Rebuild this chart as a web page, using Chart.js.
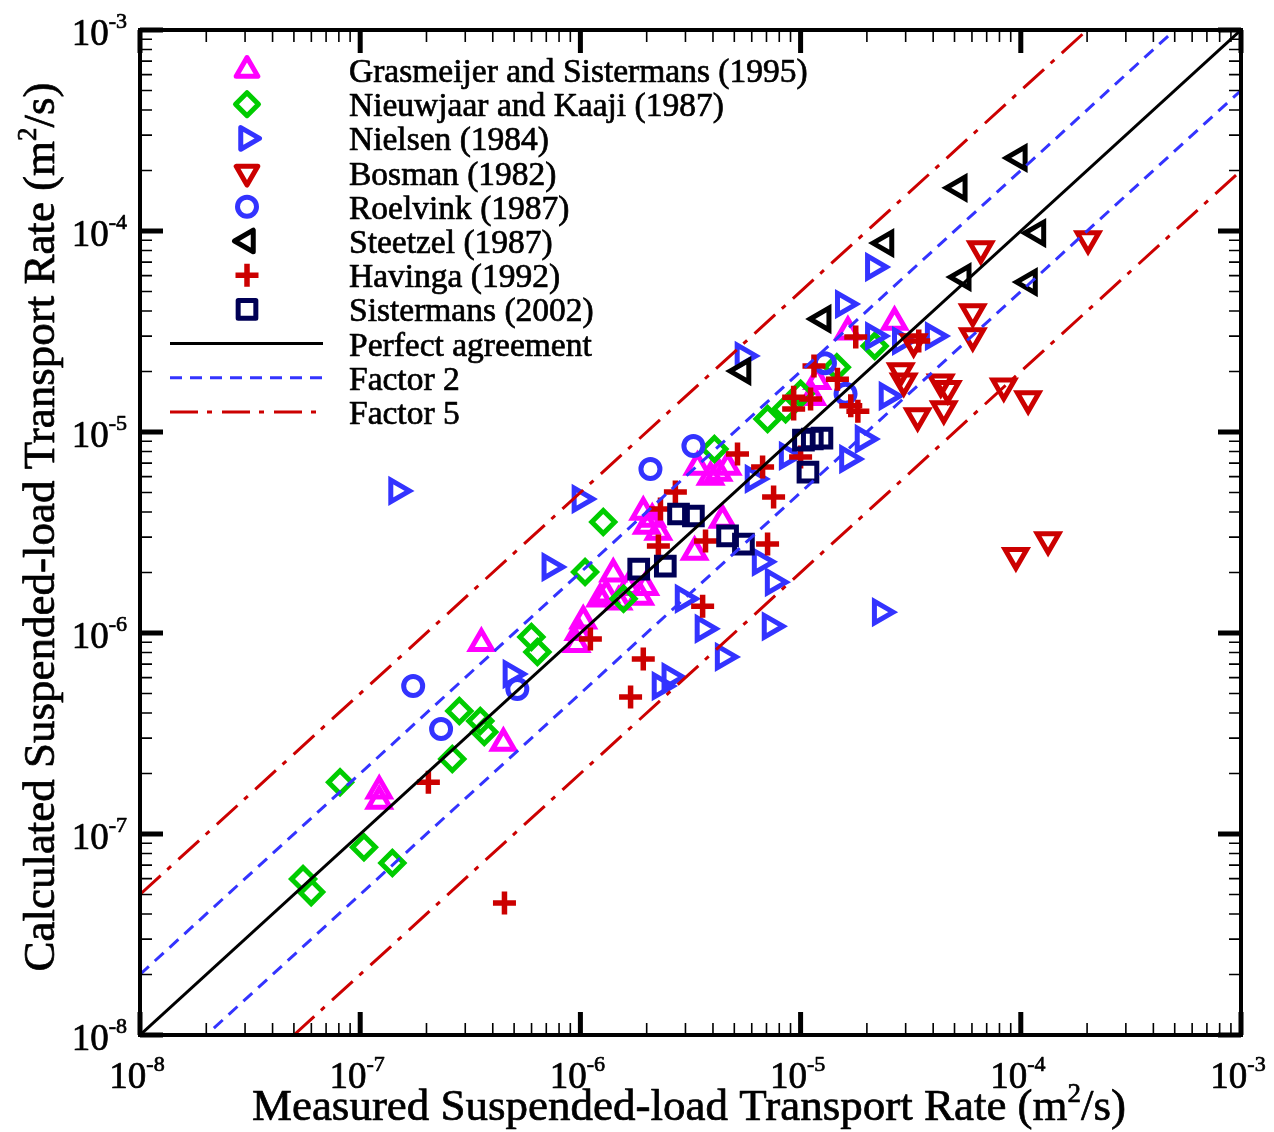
<!DOCTYPE html>
<html>
<head>
<meta charset="utf-8">
<script src="https://cdn.jsdelivr.net/npm/chart.js@4.4.1/dist/chart.umd.min.js"></script>
<style>
  html, body { margin: 0; padding: 0; background: #ffffff; }
  #wrap { width: 1274px; height: 1132px; position: relative; }
</style>
</head>
<body>
<div id="wrap"><canvas id="c" width="1274" height="1132"></canvas></div>
<script>
// ---- data (m^2/s) ----
const grasmeijerX = [1.22e-7, 1.22e-7, 3.55e-7, 4.47e-7, 9.8e-7, 9.6e-7, 1.03e-6, 1.23e-6, 1.31e-6, 1.41e-6, 1.65e-6, 1.87e-6, 1.97e-6, 1.49e-6, 1.93e-6, 2.0e-6, 2.26e-6, 2.12e-6, 3.3e-6, 3.4e-6, 3.9e-6, 4.24e-6, 4.66e-6, 4.42e-6, 1.13e-5, 1.19e-5, 1.64e-5, 2.67e-5];
const grasmeijerY = [1.64e-7, 1.46e-7, 8.9e-7, 2.84e-7, 1.01e-6, 8.8e-7, 1.15e-6, 1.48e-6, 1.55e-6, 1.97e-6, 1.69e-6, 1.51e-6, 1.69e-6, 1.43e-6, 4.0e-6, 3.41e-6, 3.18e-6, 3.69e-6, 2.53e-6, 6.7e-6, 5.97e-6, 6.25e-6, 6.7e-6, 3.65e-6, 1.49e-5, 1.79e-5, 3.15e-5, 3.53e-5];

const nieuwjaarX = [5.5e-8, 5.99e-8, 8.1e-8, 1.04e-7, 1.40e-7, 2.62e-7, 2.82e-7, 3.51e-7, 3.66e-7, 5.99e-7, 6.38e-7, 1.05e-6, 1.27e-6, 1.57e-6, 4.06e-6, 7.08e-6, 8.55e-6, 1.0e-5, 1.46e-5, 2.17e-5];
const nieuwjaarY = [5.97e-8, 5.14e-8, 1.81e-7, 8.6e-8, 7.17e-8, 2.36e-7, 4.09e-7, 3.65e-7, 3.22e-7, 9.55e-7, 8.04e-7, 2.01e-6, 3.57e-6, 1.48e-6, 8.23e-6, 1.16e-5, 1.30e-5, 1.55e-5, 2.1e-5, 2.68e-5];

const nielsenX = [1.47e-7, 4.86e-7, 7.3e-7, 1.0e-6, 2.94e-6, 3.62e-6, 2.31e-6, 2.56e-6, 4.47e-6, 6.58e-6, 7.54e-6, 7.3e-6, 2.31e-5, 6.11e-6, 8.73e-6, 1.64e-5, 1.93e-5, 2.48e-5, 2.15e-5, 2.85e-5, 4.02e-5, 1.57e-5, 2.15e-5, 5.5e-6];
const nielsenY = [5.09e-6, 6.25e-7, 2.13e-6, 4.64e-6, 1.48e-6, 1.05e-6, 5.45e-7, 6.04e-7, 7.6e-7, 2.26e-6, 1.79e-6, 1.08e-6, 1.27e-6, 5.84e-6, 7.6e-6, 7.34e-6, 9.23e-6, 1.51e-5, 3.0e-5, 2.84e-5, 3.0e-5, 4.33e-5, 6.62e-5, 2.39e-5];

const bosmanX = [6.58e-5, 2.02e-4, 6.05e-5, 6.05e-5, 3.26e-5, 2.85e-5, 2.94e-5, 4.33e-5, 4.66e-5, 3.4e-5, 4.47e-5, 8.37e-5, 1.08e-4, 9.5e-5, 1.33e-4];
const bosmanY = [8.13e-5, 9.12e-5, 3.95e-5, 3.0e-5, 2.8e-5, 2.01e-5, 1.79e-5, 1.77e-5, 1.64e-5, 1.2e-5, 1.30e-5, 1.69e-5, 1.46e-5, 2.42e-6, 2.9e-6];

const roelvinkX = [1.74e-7, 2.33e-7, 5.17e-7, 2.08e-6, 3.26e-6, 1.29e-5, 1.6e-5];
const roelvinkY = [5.45e-7, 3.33e-7, 5.26e-7, 6.55e-6, 8.52e-6, 2.2e-5, 1.55e-5];

const steetzelX = [9.8e-5, 5.23e-5, 2.43e-5, 1.19e-4, 5.45e-5, 1.09e-4, 1.26e-5, 5.45e-6];
const steetzelY = [2.31e-4, 1.64e-4, 8.71e-5, 9.77e-5, 5.9e-5, 5.57e-5, 3.65e-5, 2.01e-5];

const havingaX = [2.04e-7, 4.52e-7, 1.11e-6, 1.69e-6, 1.93e-6, 2.26e-6, 2.31e-6, 2.7e-6, 3.59e-6, 3.7e-6, 5.17e-6, 6.72e-6, 7.08e-6, 7.54e-6, 9.3e-6, 9.3e-6, 1.11e-5, 1.15e-5, 1.47e-5, 1.69e-5, 1.82e-5, 1.78e-5, 3.44e-5, 1.0e-5];
const havingaY = [1.81e-7, 4.54e-8, 9.33e-7, 4.8e-7, 7.43e-7, 2.71e-6, 4.14e-6, 5.03e-6, 1.36e-6, 2.87e-6, 7.78e-6, 6.7e-6, 2.77e-6, 4.75e-6, 1.49e-5, 1.30e-5, 1.46e-5, 2.13e-5, 1.83e-5, 1.35e-5, 1.27e-5, 2.97e-5, 2.84e-5, 7.51e-6];

const sistermansX = [1.84e-6, 2.43e-6, 2.79e-6, 3.26e-6, 4.66e-6, 5.5e-6, 1.03e-5, 1.13e-5, 1.25e-5, 1.08e-5];
const sistermansY = [2.08e-6, 2.15e-6, 3.91e-6, 3.82e-6, 3.04e-6, 2.77e-6, 9.12e-6, 9.23e-6, 9.33e-6, 6.32e-6];

// axis range and decade tick labels
const axisMin = 1e-8;
const axisMax = 1e-3;
const tickExponents = ['-8', '-7', '-6', '-5', '-4', '-3'];

// reference lines: y = factor * x
const perfectFactor = [1];
const factor2 = [2, 0.5];
const factor5 = [5, 0.2];

const FONT = '"Liberation Serif", "Times New Roman", serif';

function zip(xs, ys) { return xs.map((x, i) => ({ x: x, y: ys[i] })); }

const markerSeries = [
  { label: 'Grasmeijer and Sistermans (1995)', xs: grasmeijerX, ys: grasmeijerY, color: '#ff00ff', style: 'triangle', rotation: 0, radius: 12.5, bw: 5 },
  { label: 'Nieuwjaar and Kaaji (1987)', xs: nieuwjaarX, ys: nieuwjaarY, color: '#00cc00', style: 'rectRot', rotation: 0, radius: 11.5, bw: 5 },
  { label: 'Nielsen (1984)', xs: nielsenX, ys: nielsenY, color: '#3333ff', style: 'triangle', rotation: 90, radius: 12.5, bw: 5 },
  { label: 'Bosman (1982)', xs: bosmanX, ys: bosmanY, color: '#cc0000', style: 'triangle', rotation: 180, radius: 12.5, bw: 5 },
  { label: 'Roelvink (1987)', xs: roelvinkX, ys: roelvinkY, color: '#3333ff', style: 'circle', rotation: 0, radius: 9.5, bw: 5 },
  { label: 'Steetzel (1987)', xs: steetzelX, ys: steetzelY, color: '#000000', style: 'triangle', rotation: 270, radius: 12.5, bw: 5 },
  { label: 'Havinga (1992)', xs: havingaX, ys: havingaY, color: '#cc0000', style: 'cross', rotation: 0, radius: 11.5, bw: 5.5 },
  { label: 'Sistermans (2002)', xs: sistermansX, ys: sistermansY, color: '#000055', style: 'rect', rotation: 0, radius: 12.5, bw: 5 }
];

const lineSeries = [
  { label: 'Perfect agreement', factors: perfectFactor, color: '#000000', dash: [] },
  { label: 'Factor 2', factors: factor2, color: '#3333ff', dash: [12, 8] },
  { label: 'Factor 5', factors: factor5, color: '#cc0000', dash: [28, 9, 5, 10] }
];

const datasets = [];
lineSeries.forEach(ls => {
  ls.factors.forEach(f => {
    datasets.push({
      label: ls.label,
      data: [{ x: axisMin, y: axisMin * f }, { x: axisMax, y: axisMax * f }],
      showLine: true,
      borderColor: ls.color,
      borderWidth: 3,
      borderDash: ls.dash,
      pointRadius: 0,
      pointHoverRadius: 0,
      fill: false,
      order: 0
    });
  });
});
markerSeries.forEach((s, i) => {
  datasets.push({
    label: s.label,
    data: zip(s.xs, s.ys),
    showLine: false,
    pointStyle: s.style,
    rotation: s.rotation,
    radius: s.radius,
    pointRadius: s.radius,
    pointHoverRadius: s.radius,
    borderColor: s.color,
    backgroundColor: 'rgba(0,0,0,0)',
    borderWidth: s.bw,
    pointBorderWidth: s.bw,
    order: 20 - i
  });
});

// text with a raised, smaller part: parts = [[text, isSup], ...]
function measureParts(ctx, parts, size, supSize) {
  let w = 0;
  parts.forEach(p => {
    ctx.font = (p[1] ? supSize : size) + 'px ' + FONT;
    w += ctx.measureText(p[0]).width;
  });
  return w;
}
function heavyText(ctx, t, x, y) {
  ctx.fillText(t, x, y);
  ctx.strokeText(t, x, y);
}
function drawParts(ctx, parts, x, y, size, supSize, raise) {
  let cx = x;
  parts.forEach(p => {
    ctx.font = (p[1] ? supSize : size) + 'px ' + FONT;
    heavyText(ctx, p[0], cx, p[1] ? y - raise : y);
    cx += ctx.measureText(p[0]).width;
  });
}

const framePlugin = {
  id: 'frameAndAnnotations',
  afterDraw(chart) {
    const ctx = chart.ctx;
    const a = chart.chartArea;
    const xs = chart.scales.x, ys = chart.scales.y;
    ctx.save();
    ctx.strokeStyle = '#000';
    ctx.fillStyle = '#000';
    ctx.lineCap = 'butt';

    // ticks on all four sides
    const majLen = 23, minLen = 12;
    for (let e = -8; e <= -3; e++) {
      for (let m = 1; m <= 9; m++) {
        const v = m * Math.pow(10, e);
        if (v > axisMax * 1.0001) break;
        const major = (m === 1);
        const len = major ? majLen : minLen;
        ctx.lineWidth = major ? 5 : 1.6;
        const px = xs.getPixelForValue(v);
        const py = ys.getPixelForValue(v);
        ctx.beginPath();
        ctx.moveTo(px, a.bottom); ctx.lineTo(px, a.bottom - len);
        ctx.moveTo(px, a.top); ctx.lineTo(px, a.top + len);
        ctx.moveTo(a.left, py); ctx.lineTo(a.left + len, py);
        ctx.moveTo(a.right, py); ctx.lineTo(a.right - len, py);
        ctx.stroke();
      }
    }
    // frame
    ctx.lineWidth = 4;
    ctx.strokeRect(a.left, a.top, a.right - a.left, a.bottom - a.top);

    // text is drawn with a thin outline for a heavier serif look
    ctx.lineWidth = 0.7;
    ctx.lineJoin = 'round';
    ctx.textAlign = 'left';
    ctx.textBaseline = 'alphabetic';

    // decade labels
    const big = 37, small = 22;
    tickExponents.forEach(ex => {
      const v = Math.pow(10, Number(ex));
      const parts = [['10', false], [ex, true]];
      const w = measureParts(ctx, parts, big, small);
      const px = xs.getPixelForValue(v);
      drawParts(ctx, parts, px - w / 2 - 3, a.bottom + 53, big, small, 17);
      const py = ys.getPixelForValue(v);
      drawParts(ctx, parts, 127 - w, py + 15, big, small, 17);
    });

    // axis titles
    const tSize = 45, tSup = 27;
    const xt = [['Measured Suspended-load Transport Rate (m', false], ['2', true], ['/s)', false]];
    const xw = measureParts(ctx, xt, tSize, tSup);
    drawParts(ctx, xt, 689 - xw / 2, 1120, tSize, tSup, 18);
    const yt = [['Calculated Suspended-load Transport Rate (m', false], ['2', true], ['/s)', false]];
    const yw = measureParts(ctx, yt, tSize, tSup);
    ctx.save();
    ctx.translate(54, 527);
    ctx.rotate(-Math.PI / 2);
    drawParts(ctx, yt, -yw / 2, 0, tSize, tSup, 18);
    ctx.restore();

    // legend
    const rowY = i => 70 + i * 34.2;
    const markX = 247, textX = 349, lSize = 33.5;
    const dp = Chart.helpers && Chart.helpers.drawPoint;
    markerSeries.forEach((s, i) => {
      const y = rowY(i);
      ctx.save();
      ctx.strokeStyle = s.color;
      ctx.fillStyle = 'rgba(0,0,0,0)';
      ctx.lineWidth = s.bw;
      if (dp) dp(ctx, { pointStyle: s.style, rotation: s.rotation, radius: s.radius, borderWidth: s.bw }, markX, y);
      ctx.restore();
      ctx.font = lSize + 'px ' + FONT;
      heavyText(ctx, s.label, textX, y + 12);
    });
    lineSeries.forEach((ls, j) => {
      const y = rowY(markerSeries.length + j);
      ctx.save();
      ctx.strokeStyle = ls.color;
      ctx.lineWidth = 3;
      ctx.setLineDash(ls.dash);
      ctx.beginPath();
      ctx.moveTo(170, y); ctx.lineTo(323, y);
      ctx.stroke();
      ctx.restore();
      ctx.font = lSize + 'px ' + FONT;
      heavyText(ctx, ls.label, textX, y + 12);
    });
    ctx.restore();
  }
};

new Chart(document.getElementById('c'), {
  type: 'scatter',
  data: { datasets: datasets },
  options: {
    responsive: false,
    animation: false,
    events: [],
    layout: { padding: { left: 140, right: 33, top: 30, bottom: 97 } },
    scales: {
      x: { type: 'logarithmic', min: axisMin, max: axisMax, display: false },
      y: { type: 'logarithmic', min: axisMin, max: axisMax, display: false }
    },
    plugins: { legend: { display: false }, tooltip: { enabled: false } }
  },
  plugins: [framePlugin]
});
</script>
</body>
</html>
